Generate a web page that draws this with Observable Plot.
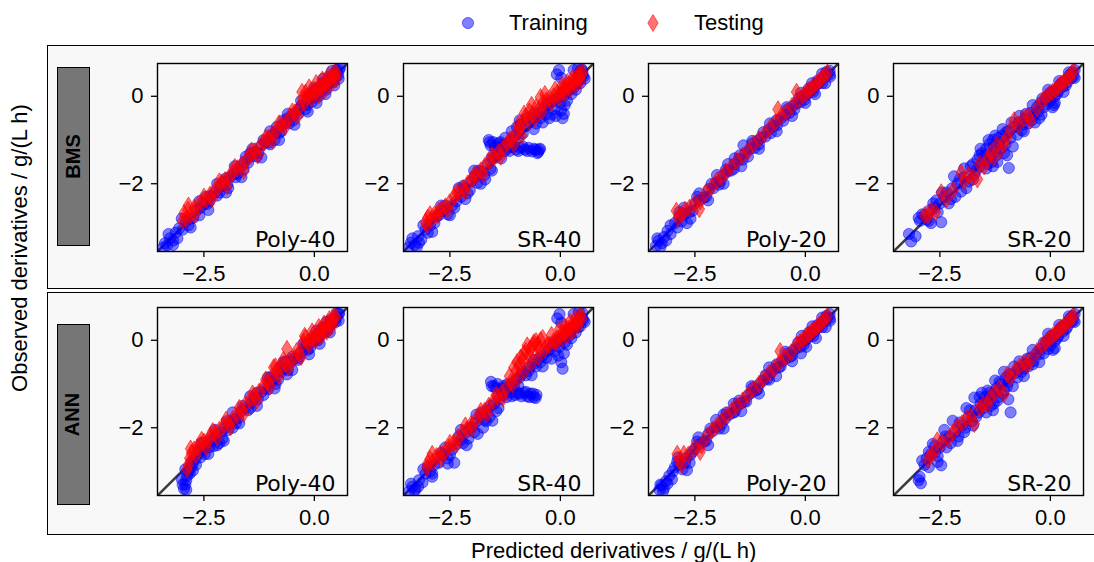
<!DOCTYPE html>
<html>
<head>
<meta charset="utf-8">
<script src="https://cdn.jsdelivr.net/npm/d3@7"></script>
<script src="https://cdn.jsdelivr.net/npm/@observablehq/plot@0.6"></script>
<style>
  html, body { margin: 0; padding: 0; background: #fff; }
  #fig { position: relative; width: 1094px; height: 562px; overflow: hidden; background: #fff; font-family: "Liberation Sans", Arial, sans-serif; }
  .rowbox { position: absolute; left: 47px; width: 1060px; border: 1.3px solid #000; background: #f8f8f8; box-sizing: border-box; }
  .strip { position: absolute; left: 56.5px; width: 33px; background: #767676; border: 1.3px solid #000; box-sizing: border-box; display: flex; align-items: center; justify-content: center; }
  .strip span { transform: rotate(-90deg); font-weight: bold; font-size: 20px; white-space: nowrap; color: #000; }
  .legend-text { position: absolute; font-size: 22px; line-height: 1; white-space: nowrap; }
  .title { position: absolute; font-size: 22px; line-height: 1; white-space: nowrap; }
</style>
</head>
<body>
<div id="fig"></div>
<script>
// ---------- data (predicted, observed) ----------
const rowLabels = ["BMS", "ANN"];
const panelLabels = ["Poly-40", "SR-40", "Poly-20", "SR-20"];
const seriesNames = ["Training", "Testing"];
const axisDomain = [-3.55, 0.75];
const xTicks = [-2.5, 0];
const yTicks = [-2, 0];

const bmsPoly40Train = [[-3.42,-3.46],[-3.38,-3.36],[-3.33,-3.41],[-3.27,-3.25],[-3.2,-3.3],[-3.14,-3.12],[-3.06,-3.02],[-2.98,-3.05],[-2.9,-2.86],[-2.82,-2.8],[-2.74,-2.78],[-2.66,-2.6],[-2.58,-2.55],[-2.5,-2.47],[-2.45,-2.3],[-2.42,-2.46],[-2.34,-2.28],[-2.26,-2.2],[-2.2,-2.27],[-2.12,-2.05],[-2.04,-1.96],[-1.97,-2.02],[-1.95,-2.1],[-1.9,-1.84],[-1.82,-1.78],[-1.74,-1.77],[-1.66,-1.6],[-1.58,-1.5],[-1.55,-1.38],[-1.5,-1.52],[-1.42,-1.37],[-1.34,-1.28],[-1.27,-1.3],[-1.19,-1.12],[-1.11,-1.05],[-1.03,-1.06],[-0.95,-0.88],[-0.9,-1.0],[-0.87,-0.82],[-0.8,-0.84],[-0.72,-0.66],[-0.7,-0.55],[-0.64,-0.6],[-0.57,-0.62],[-0.5,-0.44],[-0.43,-0.38],[-0.36,-0.4],[-0.29,-0.22],[-0.22,-0.18],[-0.16,-0.2],[-0.1,-0.04],[-0.05,0.02],[0.0,-0.03],[0.04,0.08],[0.08,0.05],[0.12,0.16],[0.16,0.13],[0.2,0.24],[0.24,0.21],[0.28,0.32],[0.32,0.29],[0.36,0.4],[0.4,0.37],[0.44,0.48],[0.48,0.45],[0.52,0.56],[0.56,0.6],
  [-3.3,-3.15],[-3.1,-3.25],[-2.85,-2.95],[-2.6,-2.72],[-2.38,-2.4],[-2.15,-2.2],[-2.0,-1.88],[-1.78,-1.85],[-1.6,-1.68],[-1.45,-1.3],[-1.3,-1.38],[-1.15,-1.0],[-1.0,-1.1],[-0.85,-0.7],[-0.75,-0.8],[-0.6,-0.5],[-0.48,-0.55],[-0.32,-0.28],[-0.2,-0.3],[-0.12,0.05],[-0.05,-0.12],[0.02,0.15],[0.1,0.0],[0.18,0.3],[0.26,0.15],[0.34,0.45],[0.42,0.32],[0.5,0.6],[0.54,0.48],[0.58,0.65],
  [-3.2,-3.4],[-3.0,-2.8],[-2.8,-3.0],[-2.6,-2.4],[-2.4,-2.6],[-2.2,-2.0],[-2.0,-2.2],[-1.8,-1.6],[-1.65,-1.85],[-1.4,-1.2],[-1.2,-1.4],[-1.0,-0.8],[-0.8,-1.0],[-0.6,-0.4],[-0.45,-0.65],[-0.3,-0.1],[-0.15,-0.35],[0.0,0.2],[0.05,-0.15],[0.2,0.4],[0.25,0.05],[0.4,0.58],[0.45,0.25],[0.55,0.4]];
const bmsPoly40Test = [[-2.95,-2.68],[-2.9,-2.8],[-2.86,-2.6],[-2.8,-2.72],[-2.72,-2.55],[-2.64,-2.5],[-2.55,-2.44],[-2.45,-2.36],[-2.36,-2.25],[-2.27,-2.18],[-2.18,-2.1],[-2.1,-1.98],[-2.02,-1.92],[-1.93,-1.85],[-1.84,-1.75],[-1.74,-1.65],[-1.64,-1.56],[-1.54,-1.46],[-1.44,-1.36],[-1.34,-1.26],[-1.24,-1.16],[-1.14,-1.06],[-1.04,-0.96],[-0.94,-0.86],[-0.84,-0.76],[-0.74,-0.66],[-0.64,-0.58],[-0.54,-0.47],[-0.44,-0.37],[-0.34,-0.25],[-0.26,-0.05],[-0.2,0.08],[-0.16,-0.02],[-0.1,0.04],[-0.04,0.1],[0.02,0.12],[0.08,0.16],[0.14,0.2],[0.2,0.26],[0.26,0.3],[0.32,0.36],[0.38,0.42],[0.44,0.47],[0.5,0.52],
  [-2.98,-2.85],[-2.85,-2.5],[-2.7,-2.7],[-2.5,-2.3],[-2.32,-2.35],[-2.15,-1.95],[-1.98,-2.05],[-1.8,-1.62],[-1.6,-1.7],[-1.42,-1.25],[-1.28,-1.35],[-1.1,-0.95],[-0.95,-1.0],[-0.8,-0.62],[-0.66,-0.7],[-0.5,-0.35],[-0.38,-0.45],[-0.28,0.1],[-0.22,-0.15],[-0.12,0.2],[-0.06,-0.05],[0.04,0.3],[0.1,0.02],[0.18,0.38],[0.24,0.15],[0.32,0.48],[0.38,0.28],[0.46,0.55],[0.5,0.4]];

const bmsSr40Train = [[-3.44,-3.46],[-3.38,-3.35],[-3.3,-3.4],[-3.22,-3.2],[-3.15,-3.28],[-3.05,-3.05],[-2.95,-2.95],[-2.85,-2.9],[-2.75,-2.72],[-2.65,-2.62],[-2.55,-2.7],[-2.45,-2.5],[-2.35,-2.4],[-2.25,-2.3],[-2.18,-2.1],[-2.1,-2.22],[-2.02,-1.95],[-1.95,-1.85],[-1.88,-1.98],[-1.8,-1.72],[-1.72,-1.8],[-1.64,-1.55],[-1.58,-1.66],[-1.5,-1.42],[-1.62,-1.0],[-1.58,-1.12],[-1.52,-1.05],[-1.46,-1.15],[-1.4,-1.08],[-1.34,-1.18],[-1.28,-1.1],[-1.2,-1.2],[-1.1,-1.16],[-1.0,-1.22],[-0.9,-1.18],[-0.8,-1.22],[-0.72,-1.18],[-0.64,-1.26],[-0.56,-1.22],[-0.5,-1.27],[-0.46,-1.2],[-1.42,-1.35],[-1.34,-1.42],[-1.26,-1.25],[-1.18,-1.08],[-1.1,-1.0],[-1.02,-0.9],[-0.98,-0.7],[-0.92,-0.55],[-0.85,-0.85],[-0.78,-0.68],[-0.7,-0.6],[-0.62,-0.5],[-0.55,-0.62],[-0.48,-0.38],[-0.4,-0.3],[-0.34,-0.42],[-0.28,-0.2],[-0.2,-0.14],[-0.2,-0.42],[-0.14,-0.3],[-0.08,-0.05],[-0.02,0.0],[0.02,-0.32],[0.05,-0.5],[0.1,-0.2],[0.04,0.08],[0.1,0.12],[0.16,0.1],[0.22,0.2],[0.28,0.26],[0.34,0.3],[0.4,0.38],[0.46,0.42],[0.5,0.5],[-0.08,0.5],[-0.03,0.6],[0.02,0.42],[0.3,0.6],[0.4,0.64],[0.48,0.62],[0.44,0.55],
  [-3.35,-3.25],[-3.2,-3.35],[-3.0,-3.12],[-2.8,-2.75],[-2.6,-2.5],[-2.4,-2.55],[-2.2,-2.05],[-2.05,-2.15],[-1.85,-1.7],[-1.7,-1.9],[-1.55,-1.4],[-1.6,-1.05],[-1.48,-1.2],[-1.36,-1.05],[-1.25,-1.15],[-1.15,-1.25],[-1.05,-1.15],[-0.95,-1.25],[-0.85,-1.15],[-0.75,-1.25],[-0.6,-1.2],[-0.52,-1.3],[-0.48,-1.22],[-0.9,-0.65],[-0.75,-0.5],[-0.6,-0.4],[-0.45,-0.5],[-0.3,-0.15],[-0.15,-0.1],[0.0,-0.15],[0.08,-0.4],[0.12,0.05],[0.2,0.15],[0.3,0.2],[0.38,0.3],[0.45,0.5],[0.5,0.58],[0.52,0.45],
  [-3.25,-3.45],[-3.1,-2.95],[-2.9,-3.1],[-2.7,-2.5],[-2.5,-2.72],[-2.3,-2.1],[-2.15,-2.35],[-1.95,-1.7],[-1.8,-2.0],[-1.55,-1.7],[-1.25,-0.95],[-1.1,-0.8],[-0.95,-0.95],[-0.6,-0.75],[-0.4,-0.6],[-0.25,-0.5],[-0.1,-0.45],[0.15,-0.1],[0.25,0.05],[0.35,0.15],[0.45,0.3],[0.55,0.4]];
const bmsSr40Test = [[-3.05,-2.88],[-3.0,-2.78],[-2.92,-2.82],[-2.85,-2.7],[-2.78,-2.72],[-2.7,-2.6],[-2.6,-2.52],[-2.5,-2.42],[-2.4,-2.3],[-2.3,-2.22],[-2.2,-2.1],[-2.1,-2.0],[-2.0,-1.9],[-1.9,-1.82],[-1.8,-1.7],[-1.7,-1.58],[-1.6,-1.5],[-1.5,-1.4],[-1.4,-1.28],[-1.3,-1.2],[-1.2,-1.08],[-1.1,-0.98],[-1.0,-0.85],[-0.92,-0.72],[-0.85,-0.6],[-0.82,-0.4],[-0.78,-0.45],[-0.7,-0.35],[-0.62,-0.42],[-0.55,-0.25],[-0.48,-0.3],[-0.45,-0.02],[-0.4,-0.15],[-0.32,-0.1],[-0.25,-0.05],[-0.15,0.0],[-0.08,0.05],[0.0,0.1],[0.06,0.15],[0.12,0.2],[0.18,0.25],[0.24,0.3],[0.3,0.35],[0.36,0.4],[0.42,0.45],[0.48,0.5],
  [-3.02,-2.95],[-2.95,-2.7],[-2.75,-2.62],[-2.55,-2.6],[-2.35,-2.2],[-2.15,-2.18],[-1.95,-1.8],[-1.75,-1.78],[-1.55,-1.35],[-1.35,-1.38],[-1.15,-1.0],[-1.05,-1.1],[-0.95,-0.65],[-0.88,-0.9],[-0.72,-0.55],[-0.65,-0.2],[-0.58,-0.5],[-0.42,-0.35],[-0.35,0.05],[-0.2,-0.15],[-0.12,0.15],[-0.02,-0.02],[0.04,0.25],[0.1,0.08],[0.16,0.32],[0.22,0.16],[0.28,0.42],[0.34,0.26],[0.4,0.5],[0.46,0.36],[0.5,0.55]];

const bmsPoly20Train = [[-3.38,-3.42],[-3.32,-3.3],[-3.25,-3.36],[-3.2,-3.22],[-3.12,-3.08],[-2.95,-2.9],[-2.85,-2.75],[-2.8,-2.86],[-2.72,-2.68],[-2.68,-2.9],[-2.62,-2.65],[-2.5,-2.45],[-2.4,-2.38],[-2.3,-2.32],[-2.18,-2.12],[-2.08,-2.1],[-2.0,-1.96],[-1.92,-1.94],[-1.85,-1.8],[-1.76,-1.72],[-1.75,-1.55],[-1.68,-1.7],[-1.6,-1.55],[-1.5,-1.44],[-1.42,-1.45],[-1.4,-1.12],[-1.35,-1.3],[-1.25,-1.2],[-1.15,-1.18],[-1.08,-1.02],[-1.0,-0.95],[-0.9,-0.92],[-0.82,-0.76],[-0.72,-0.68],[-0.64,-0.66],[-0.55,-0.5],[-0.45,-0.42],[-0.36,-0.38],[-0.28,-0.22],[-0.2,-0.16],[-0.12,-0.14],[-0.06,0.0],[0.0,0.02],[0.05,0.06],[0.1,0.12],[0.15,0.14],[0.2,0.22],[0.25,0.26],[0.3,0.3],[0.35,0.36],[0.4,0.42],[0.45,0.46],[0.5,0.52],[0.55,0.58],
  [-3.35,-3.25],[-3.15,-3.3],[-3.05,-2.95],[-2.9,-3.0],[-2.75,-2.55],[-2.55,-2.62],[-2.45,-2.3],[-2.25,-2.3],[-2.12,-2.0],[-1.95,-2.02],[-1.8,-1.68],[-1.62,-1.66],[-1.48,-1.35],[-1.3,-1.38],[-1.2,-1.08],[-1.05,-1.1],[-0.95,-0.82],[-0.78,-0.84],[-0.65,-0.55],[-0.5,-0.56],[-0.4,-0.3],[-0.25,-0.3],[-0.15,-0.05],[-0.02,-0.08],[0.08,0.18],[0.18,0.1],[0.28,0.36],[0.38,0.3],[0.48,0.56],[0.55,0.5],
  [-3.28,-3.45],[-3.05,-3.15],[-2.85,-2.65],[-2.6,-2.8],[-2.4,-2.22],[-2.2,-2.38],[-2.0,-1.8],[-1.85,-2.0],[-1.6,-1.42],[-1.45,-1.6],[-1.2,-1.02],[-1.05,-1.2],[-0.8,-0.62],[-0.65,-0.8],[-0.42,-0.25],[-0.3,-0.45],[-0.1,0.08],[0.0,-0.15],[0.15,0.3],[0.22,0.05],[0.38,0.52],[0.45,0.3],[0.56,0.45]];
const bmsPoly20Test = [[-2.92,-2.62],[-2.88,-2.78],[-2.8,-2.7],[-2.72,-2.6],[-2.62,-2.55],[-2.5,-2.45],[-2.4,-2.58],[-2.38,-2.4],[-2.25,-2.2],[-2.12,-2.08],[-2.0,-1.92],[-1.9,-1.86],[-1.8,-1.72],[-1.68,-1.62],[-1.55,-1.48],[-1.42,-1.36],[-1.3,-1.25],[-1.18,-1.1],[-1.05,-0.98],[-0.92,-0.86],[-0.8,-0.72],[-0.68,-0.6],[-0.62,-0.3],[-0.55,-0.46],[-0.42,-0.36],[-0.3,-0.22],[-0.2,0.1],[-0.15,-0.08],[-0.05,0.02],[0.02,0.08],[0.08,0.14],[0.14,0.18],[0.2,0.24],[0.26,0.3],[0.32,0.36],[0.38,0.42],[0.44,0.48],[0.5,0.54]];

const bmsSr20Train = [[-3.15,-3.32],[-3.2,-3.15],[-2.95,-2.85],[-2.9,-2.7],[-2.85,-2.72],[-2.8,-2.82],[-2.72,-2.6],[-2.62,-2.55],[-2.58,-2.38],[-2.5,-2.45],[-2.47,-2.88],[-2.4,-2.3],[-2.3,-2.45],[-2.22,-2.1],[-2.18,-1.83],[-2.1,-2.0],[-2.02,-2.18],[-1.95,-1.85],[-1.85,-1.95],[-1.8,-1.6],[-1.72,-1.78],[-1.65,-1.45],[-1.6,-1.6],[-1.55,-1.3],[-1.5,-1.45],[-1.45,-1.2],[-1.42,-1.55],[-1.38,-1.1],[-1.35,-1.35],[-1.3,-1.0],[-1.25,-1.25],[-1.2,-1.5],[-1.15,-1.05],[-1.1,-0.9],[-1.05,-1.3],[-0.94,-1.64],[-1.0,-0.82],[-0.9,-0.95],[-0.85,-1.15],[-0.8,-0.7],[-0.72,-0.6],[-0.65,-0.78],[-0.58,-0.52],[-0.5,-0.62],[-0.45,-0.38],[-0.38,-0.45],[-0.35,-0.6],[-0.3,-0.25],[-0.22,-0.15],[-0.2,-0.42],[-0.15,-0.25],[-0.1,-0.05],[-0.05,0.02],[0.0,-0.1],[0.05,0.08],[0.05,-0.25],[0.08,-0.2],[0.1,0.0],[0.12,0.15],[0.18,0.12],[0.22,0.25],[0.28,0.22],[0.32,0.35],[0.38,0.32],[0.42,0.45],[0.48,0.42],[0.5,0.55],[0.55,0.6],
  [-2.98,-2.78],[-2.75,-2.85],[-2.65,-2.45],[-2.55,-2.65],[-2.35,-2.2],[-2.25,-2.35],[-2.05,-1.9],[-1.9,-2.1],[-1.75,-1.55],[-1.68,-1.7],[-1.58,-1.2],[-1.48,-1.35],[-1.4,-1.0],[-1.32,-1.5],[-1.28,-1.15],[-1.22,-1.35],[-1.18,-0.95],[-1.12,-1.2],[-1.02,-1.1],[-0.95,-0.8],[-0.88,-0.6],[-0.75,-0.88],[-0.62,-0.65],[-0.55,-0.4],[-0.42,-0.55],[-0.28,-0.35],[-0.18,-0.05],[-0.08,-0.18],[0.02,0.1],[0.15,0.05],[0.25,0.3],[0.35,0.25],[0.45,0.5],[0.52,0.45],
  [-3.05,-3.2],[-2.7,-2.9],[-2.45,-2.2],[-2.15,-2.3],[-1.95,-1.65],[-1.75,-1.9],[-1.6,-1.35],[-1.45,-1.65],[-1.3,-1.6],[-1.25,-0.9],[-1.08,-0.75],[-0.98,-1.35],[-0.7,-0.45],[-0.6,-0.8],[-0.4,-0.2],[-0.25,-0.5],[-0.05,0.15],[0.1,-0.15],[0.2,0.35],[0.3,0.1],[0.42,0.55],[0.55,0.42]];
const bmsSr20Test = [[-2.85,-2.72],[-2.77,-2.73],[-2.7,-2.62],[-2.6,-2.65],[-2.47,-2.2],[-2.35,-2.35],[-2.2,-2.15],[-2.02,-1.75],[-1.95,-1.95],[-1.85,-1.8],[-1.75,-1.85],[-1.65,-1.9],[-1.6,-1.55],[-1.5,-1.6],[-1.42,-1.42],[-1.35,-1.3],[-1.28,-1.4],[-1.2,-1.1],[-1.12,-1.22],[-1.05,-1.07],[-0.98,-0.95],[-0.9,-0.75],[-0.82,-0.55],[-0.72,-0.65],[-0.6,-0.5],[-0.5,-0.45],[-0.45,-0.55],[-0.3,-0.28],[-0.18,-0.1],[-0.1,-0.02],[-0.02,0.05],[0.05,0.1],[0.12,0.15],[0.18,0.22],[0.24,0.28],[0.3,0.32],[0.36,0.38],[0.42,0.44],[0.48,0.5],[0.52,0.58]];

const annPoly40Train = [[-2.95,-3.4],[-2.92,-3.3],[-2.9,-3.2],[-2.88,-3.1],[-2.85,-3.0],[-2.8,-2.92],[-2.75,-2.82],[-2.7,-2.72],[-2.64,-2.62],[-2.58,-2.68],[-2.52,-2.52],[-2.45,-2.42],[-2.38,-2.45],[-2.3,-2.3],[-2.22,-2.2],[-2.2,-2.4],[-2.15,-2.35],[-2.1,-2.1],[-2.02,-2.0],[-1.95,-2.05],[-1.88,-1.88],[-1.85,-2.0],[-1.8,-1.8],[-1.72,-1.78],[-1.65,-1.62],[-1.56,-1.55],[-1.5,-1.6],[-1.42,-1.42],[-1.35,-1.32],[-1.28,-1.35],[-1.2,-1.18],[-1.12,-1.1],[-1.05,-1.12],[-0.98,-0.95],[-0.9,-0.88],[-0.82,-0.9],[-0.75,-0.72],[-0.7,-0.5],[-0.68,-0.65],[-0.6,-0.68],[-0.52,-0.48],[-0.45,-0.42],[-0.38,-0.45],[-0.3,-0.28],[-0.22,-0.2],[-0.15,-0.22],[-0.08,-0.06],[-0.02,0.0],[0.04,0.02],[0.1,0.1],[0.15,0.12],[0.2,0.2],[0.25,0.24],[0.3,0.3],[0.35,0.34],[0.4,0.4],[0.45,0.46],[0.5,0.52],[0.55,0.6],
  [-2.98,-3.3],[-2.9,-3.42],[-2.82,-3.05],[-2.78,-2.78],[-2.68,-2.85],[-2.6,-2.5],[-2.48,-2.6],[-2.35,-2.28],[-2.28,-2.42],[-2.08,-2.25],[-1.98,-1.85],[-1.78,-1.9],[-1.62,-1.5],[-1.45,-1.55],[-1.3,-1.2],[-1.15,-1.25],[-1.0,-0.85],[-0.88,-1.0],[-0.78,-0.62],[-0.62,-0.78],[-0.5,-0.38],[-0.35,-0.4],[-0.2,-0.1],[-0.1,-0.18],[0.0,0.08],[0.08,0.0],[0.18,0.28],[0.28,0.2],[0.38,0.48],[0.48,0.42],[0.56,0.62],
  [-3.0,-3.18],[-2.92,-2.95],[-2.75,-2.98],[-2.55,-2.35],[-2.4,-2.6],[-2.25,-2.05],[-2.05,-2.3],[-1.85,-1.65],[-1.7,-1.9],[-1.45,-1.28],[-1.3,-1.5],[-1.05,-0.85],[-0.9,-1.1],[-0.65,-0.48],[-0.5,-0.68],[-0.25,-0.08],[-0.12,-0.32],[0.05,0.22],[0.12,-0.08],[0.28,0.42],[0.35,0.18],[0.5,0.62],[0.55,0.45]];
const annPoly40Test = [[-2.85,-2.85],[-2.82,-2.7],[-2.78,-2.58],[-2.72,-2.5],[-2.65,-2.45],[-2.58,-2.4],[-2.5,-2.32],[-2.42,-2.3],[-2.35,-2.2],[-2.25,-2.12],[-2.15,-2.05],[-2.05,-1.95],[-1.95,-1.9],[-1.85,-1.8],[-1.75,-1.72],[-1.65,-1.6],[-1.55,-1.45],[-1.45,-1.38],[-1.35,-1.28],[-1.25,-1.18],[-1.15,-1.05],[-1.05,-0.95],[-0.95,-0.82],[-0.92,-0.62],[-0.85,-0.7],[-0.75,-0.6],[-0.65,-0.55],[-0.62,-0.2],[-0.55,-0.48],[-0.45,-0.4],[-0.35,-0.3],[-0.25,-0.05],[-0.2,0.06],[-0.15,-0.05],[-0.08,0.04],[0.0,0.08],[0.06,0.12],[0.12,0.18],[0.18,0.24],[0.24,0.28],[0.3,0.34],[0.36,0.4],[0.42,0.46],[0.48,0.52],
  [-2.88,-2.95],[-2.8,-2.48],[-2.68,-2.62],[-2.55,-2.28],[-2.45,-2.45],[-2.3,-2.08],[-2.2,-2.22],[-2.0,-1.82],[-1.9,-1.98],[-1.7,-1.55],[-1.6,-1.68],[-1.4,-1.22],[-1.3,-1.38],[-1.1,-0.9],[-1.0,-1.05],[-0.88,-0.6],[-0.8,-0.82],[-0.7,-0.45],[-0.58,-0.62],[-0.4,-0.25],[-0.3,-0.38],[-0.22,0.1],[-0.12,-0.1],[-0.05,0.2],[0.03,0.0],[0.1,0.3],[0.16,0.1],[0.22,0.38],[0.28,0.2],[0.34,0.48],[0.4,0.32],[0.46,0.56]];

const annSr40Train = [[-3.42,-3.45],[-3.35,-3.35],[-3.28,-3.4],[-3.2,-3.2],[-3.12,-3.25],[-3.05,-3.05],[-2.95,-3.0],[-2.85,-2.85],[-2.75,-2.8],[-2.65,-2.62],[-2.55,-2.7],[-2.45,-2.5],[-2.4,-2.8],[-2.35,-2.38],[-2.25,-2.28],[-2.15,-2.12],[-2.08,-2.25],[-2.0,-1.98],[-1.92,-1.88],[-1.87,-2.14],[-1.8,-1.75],[-1.72,-1.82],[-1.65,-1.6],[-1.54,-1.84],[-1.58,-1.5],[-1.5,-1.45],[-1.45,-1.62],[-1.57,-0.95],[-1.5,-1.05],[-1.42,-1.0],[-1.35,-1.12],[-1.28,-1.05],[-1.2,-1.15],[-1.12,-1.2],[-1.02,-1.25],[-0.92,-1.22],[-0.82,-1.2],[-0.75,-1.28],[-0.68,-1.22],[-0.6,-1.3],[-0.54,-1.25],[-1.38,-1.35],[-1.3,-1.25],[-1.22,-1.3],[-1.15,-1.05],[-1.08,-0.98],[-1.0,-0.9],[-0.92,-0.85],[-0.85,-0.72],[-0.78,-0.8],[-0.7,-0.62],[-0.62,-0.55],[-0.55,-0.6],[-0.48,-0.42],[-0.4,-0.35],[-0.32,-0.4],[-0.25,-0.2],[-0.18,-0.12],[-0.12,-0.25],[-0.06,-0.05],[0.0,0.0],[0.02,-0.5],[0.05,-0.65],[0.08,-0.3],[0.05,0.06],[0.1,0.1],[0.15,0.12],[0.2,0.2],[0.26,0.24],[0.32,0.3],[0.38,0.36],[0.44,0.42],[0.5,0.5],[-0.07,0.5],[-0.02,0.6],[0.02,0.4],[0.3,0.6],[0.42,0.65],[0.5,0.62],
  [-3.38,-3.28],[-3.22,-3.35],[-3.0,-2.9],[-2.9,-3.05],[-2.7,-2.58],[-2.5,-2.62],[-2.3,-2.2],[-2.2,-2.35],[-2.05,-2.0],[-1.95,-2.1],[-1.78,-1.65],[-1.68,-1.85],[-1.55,-1.05],[-1.45,-1.1],[-1.32,-1.2],[-1.25,-1.1],[-1.1,-1.28],[-0.98,-1.2],[-0.88,-1.28],[-0.78,-1.18],[-0.7,-1.3],[-0.62,-1.22],[-0.56,-1.32],[-1.05,-1.05],[-0.88,-0.78],[-0.72,-0.7],[-0.6,-0.45],[-0.45,-0.5],[-0.3,-0.25],[-0.15,-0.05],[-0.02,-0.15],[0.1,-0.05],[0.12,0.15],[0.22,0.12],[0.3,0.32],[0.4,0.3],[0.46,0.52],[0.52,0.45],
  [-3.3,-3.45],[-3.1,-2.95],[-2.9,-3.12],[-2.6,-2.45],[-2.55,-2.82],[-2.25,-2.05],[-2.12,-2.4],[-1.9,-1.7],[-1.75,-2.0],[-1.6,-1.75],[-1.4,-1.55],[-1.2,-1.0],[-0.95,-1.05],[-0.65,-0.8],[-0.4,-0.6],[-0.2,-0.42],[-0.05,-0.35],[0.15,-0.1],[0.25,0.05],[0.35,0.18],[0.45,0.32],[0.55,0.42]];
const annSr40Test = [[-3.0,-2.82],[-2.95,-2.72],[-2.88,-2.78],[-2.8,-2.65],[-2.72,-2.6],[-2.62,-2.55],[-2.52,-2.45],[-2.42,-2.35],[-2.32,-2.22],[-2.22,-2.12],[-2.12,-2.05],[-2.02,-1.92],[-1.92,-1.82],[-1.82,-1.72],[-1.72,-1.62],[-1.62,-1.5],[-1.52,-1.4],[-1.42,-1.3],[-1.32,-1.2],[-1.22,-1.1],[-1.12,-0.95],[-1.05,-0.62],[-0.98,-0.5],[-0.9,-0.4],[-0.82,-0.3],[-0.75,-0.12],[-0.68,-0.2],[-0.6,-0.05],[-0.52,-0.1],[-0.45,0.0],[-0.95,-0.85],[-0.8,-0.68],[-0.65,-0.52],[-0.5,-0.38],[-0.35,-0.2],[-0.25,-0.1],[-0.15,-0.02],[-0.08,0.04],[0.0,0.1],[0.06,0.16],[0.12,0.2],[0.18,0.26],[0.24,0.3],[0.3,0.36],[0.36,0.42],[0.42,0.46],[0.48,0.5],
  [-3.02,-2.92],[-2.9,-2.6],[-2.7,-2.7],[-2.5,-2.35],[-2.35,-2.38],[-2.15,-1.95],[-2.0,-2.02],[-1.8,-1.62],[-1.65,-1.68],[-1.45,-1.25],[-1.3,-1.32],[-1.15,-0.82],[-1.08,-1.0],[-1.0,-0.7],[-0.92,-0.55],[-0.85,-0.45],[-0.78,-0.25],[-0.7,-0.35],[-0.62,-0.12],[-0.55,-0.02],[-0.48,-0.2],[-0.4,0.05],[-0.3,-0.12],[-0.2,0.12],[-0.1,-0.05],[-0.02,0.25],[0.04,0.05],[0.1,0.32],[0.16,0.12],[0.22,0.42],[0.28,0.22],[0.34,0.5],[0.4,0.34],[0.46,0.58]];

const annPoly20Train = [[-3.3,-3.42],[-3.25,-3.32],[-3.2,-3.38],[-3.15,-3.22],[-3.08,-3.1],[-2.95,-2.9],[-2.85,-2.85],[-2.72,-2.8],[-2.68,-2.97],[-2.7,-2.7],[-2.6,-2.62],[-2.5,-2.48],[-2.4,-2.38],[-2.3,-2.32],[-2.2,-2.15],[-2.1,-2.08],[-2.0,-1.98],[-1.9,-1.92],[-1.85,-1.7],[-1.82,-1.8],[-1.72,-1.7],[-1.64,-1.66],[-1.55,-1.52],[-1.46,-1.44],[-1.38,-1.4],[-1.3,-1.26],[-1.22,-1.2],[-1.12,-1.15],[-1.04,-1.0],[-0.95,-0.92],[-0.86,-0.88],[-0.78,-0.74],[-0.7,-0.66],[-0.6,-0.62],[-0.52,-0.48],[-0.44,-0.42],[-0.35,-0.38],[-0.28,-0.24],[-0.2,-0.18],[-0.12,-0.15],[-0.1,-0.3],[-0.06,-0.02],[0.0,0.0],[0.05,0.05],[0.1,0.1],[0.15,0.16],[0.2,0.2],[0.25,0.26],[0.3,0.3],[0.35,0.36],[0.4,0.42],[0.45,0.46],[0.5,0.52],[0.55,0.6],
  [-3.28,-3.3],[-3.12,-3.28],[-3.0,-3.0],[-2.9,-2.78],[-2.78,-2.95],[-2.55,-2.55],[-2.45,-2.32],[-2.25,-2.3],[-2.15,-2.02],[-1.95,-2.02],[-1.78,-1.65],[-1.6,-1.64],[-1.5,-1.38],[-1.34,-1.4],[-1.18,-1.08],[-1.08,-1.12],[-0.9,-0.8],[-0.82,-0.9],[-0.65,-0.55],[-0.56,-0.6],[-0.4,-0.3],[-0.3,-0.35],[-0.16,-0.05],[-0.04,-0.1],[0.08,0.18],[0.18,0.1],[0.28,0.35],[0.38,0.3],[0.48,0.56],[0.55,0.5],
  [-3.22,-3.45],[-3.02,-3.18],[-2.88,-2.68],[-2.62,-2.8],[-2.42,-2.22],[-2.2,-2.4],[-2.02,-1.82],[-1.85,-2.02],[-1.62,-1.45],[-1.45,-1.62],[-1.22,-1.05],[-1.05,-1.22],[-0.82,-0.62],[-0.66,-0.82],[-0.45,-0.26],[-0.3,-0.48],[-0.08,0.1],[0.02,-0.15],[0.16,0.32],[0.24,0.05],[0.38,0.52],[0.46,0.3],[0.56,0.45]];
const annPoly20Test = [[-2.9,-2.6],[-2.85,-2.75],[-2.8,-2.85],[-2.75,-2.6],[-2.65,-2.62],[-2.5,-2.45],[-2.38,-2.55],[-2.35,-2.4],[-2.22,-2.18],[-2.1,-2.05],[-2.0,-1.95],[-1.9,-1.85],[-1.78,-1.72],[-1.66,-1.6],[-1.55,-1.5],[-1.42,-1.38],[-1.3,-1.25],[-1.18,-1.12],[-1.05,-1.0],[-0.95,-0.88],[-0.82,-0.75],[-0.7,-0.65],[-0.57,-0.25],[-0.58,-0.5],[-0.45,-0.4],[-0.32,-0.28],[-0.2,-0.1],[-0.12,-0.05],[-0.05,0.02],[0.02,0.08],[0.08,0.14],[0.14,0.2],[0.2,0.24],[0.26,0.3],[0.32,0.36],[0.38,0.42],[0.44,0.48],[0.5,0.55]];

const annSr20Train = [[-2.93,-3.27],[-2.96,-3.12],[-2.85,-2.85],[-2.8,-2.7],[-2.66,-2.37],[-2.7,-2.6],[-2.6,-2.55],[-2.47,-2.86],[-2.5,-2.45],[-2.42,-2.3],[-2.35,-2.45],[-2.28,-2.2],[-2.21,-1.84],[-2.15,-2.1],[-2.08,-2.2],[-2.0,-1.95],[-1.92,-2.0],[-1.85,-1.75],[-1.78,-1.85],[-1.72,-1.31],[-1.7,-1.6],[-1.62,-1.65],[-1.58,-1.45],[-1.52,-1.55],[-1.48,-1.3],[-1.42,-1.4],[-1.38,-1.2],[-1.32,-1.25],[-1.28,-1.45],[-1.22,-1.1],[-1.18,-1.3],[-1.12,-1.0],[-1.05,-1.15],[-0.9,-1.65],[-1.0,-0.85],[-0.95,-0.95],[-0.85,-1.05],[-0.8,-0.75],[-0.72,-0.65],[-0.65,-0.72],[-0.58,-0.55],[-0.5,-0.6],[-0.45,-0.4],[-0.38,-0.48],[-0.3,-0.28],[-0.22,-0.2],[-0.15,-0.3],[-0.1,-0.05],[-0.05,0.0],[0.0,-0.12],[0.05,0.06],[0.06,-0.22],[0.1,-0.02],[0.12,0.14],[0.18,0.1],[0.22,0.24],[0.28,0.2],[0.32,0.34],[0.38,0.3],[0.42,0.45],[0.48,0.42],[0.5,0.55],[0.55,0.6],
  [-2.9,-2.75],[-2.75,-2.9],[-2.62,-2.42],[-2.55,-2.65],[-2.38,-2.2],[-2.25,-2.35],[-2.05,-1.88],[-1.95,-2.1],[-1.82,-1.6],[-1.68,-1.75],[-1.6,-1.3],[-1.5,-1.42],[-1.42,-1.15],[-1.35,-1.5],[-1.25,-1.18],[-1.2,-1.38],[-1.15,-0.95],[-1.08,-1.22],[-0.98,-1.05],[-0.92,-0.78],[-0.82,-0.6],[-0.75,-0.85],[-0.6,-0.65],[-0.52,-0.42],[-0.4,-0.55],[-0.25,-0.32],[-0.15,-0.05],[-0.05,-0.2],[0.02,0.1],[0.15,0.04],[0.25,0.3],[0.35,0.25],[0.45,0.5],[0.52,0.45],
  [-2.98,-3.2],[-2.75,-2.55],[-2.55,-2.78],[-2.4,-2.05],[-2.1,-2.3],[-1.9,-1.55],[-1.75,-1.95],[-1.55,-1.2],[-1.45,-1.65],[-1.3,-1.6],[-1.25,-0.92],[-1.05,-0.72],[-0.95,-1.35],[-0.7,-0.48],[-0.6,-0.82],[-0.4,-0.22],[-0.25,-0.5],[-0.05,0.15],[0.1,-0.18],[0.2,0.35],[0.3,0.1],[0.42,0.55],[0.55,0.42]];
const annSr20Test = [[-2.77,-2.74],[-2.7,-2.62],[-2.62,-2.55],[-2.56,-2.29],[-2.45,-2.35],[-2.3,-2.25],[-2.2,-2.1],[-2.11,-1.99],[-2.0,-1.9],[-1.9,-1.8],[-1.8,-1.75],[-1.72,-1.91],[-1.6,-1.55],[-1.52,-1.48],[-1.42,-1.46],[-1.35,-1.3],[-1.25,-1.2],[-1.15,-1.1],[-1.05,-1.23],[-0.97,-0.78],[-0.9,-0.85],[-0.8,-0.7],[-0.7,-0.6],[-0.6,-0.52],[-0.52,-0.56],[-0.45,-0.45],[-0.3,-0.25],[-0.18,-0.12],[-0.1,-0.04],[-0.02,0.04],[0.05,0.1],[0.12,0.16],[0.18,0.22],[0.24,0.28],[0.3,0.32],[0.36,0.38],[0.42,0.44],[0.48,0.5],[0.52,0.56]];

const trainSets = [[bmsPoly40Train, bmsSr40Train, bmsPoly20Train, bmsSr20Train],
                   [annPoly40Train, annSr40Train, annPoly20Train, annSr20Train]];
const testSets = [[bmsPoly40Test, bmsSr40Test, bmsPoly20Test, bmsSr20Test],
                  [annPoly40Test, annSr40Test, annPoly20Test, annSr20Test]];

// ---------- layout ----------
const fig = document.getElementById("fig");
const panelLefts = [157.3, 402.7, 648.3, 892.7];
const panelTops = [62.7, 307.3];
const PW = 190, PH = 188;
const mL = 52, mR = 6, mT = 8, mB = 40;

function addDiv(cls, style, html) {
  const d = document.createElement("div");
  d.className = cls;
  Object.assign(d.style, style);
  if (html != null) d.innerHTML = html;
  fig.appendChild(d);
  return d;
}

addDiv("rowbox", {top: "44.5px", height: "244.5px"});
addDiv("rowbox", {top: "291.8px", height: "243px"});
addDiv("strip", {top: "66.5px", height: "179.5px"}, `<span>${rowLabels[0]}</span>`);
addDiv("strip", {top: "324px", height: "180.5px"}, `<span>${rowLabels[1]}</span>`);

const thinDiamond = {
  draw(ctx, size) {
    const r = Math.sqrt(size / Math.PI);
    const hh = r * 1.55, hw = r * 0.95;
    ctx.moveTo(0, -hh); ctx.lineTo(hw, 0); ctx.lineTo(0, hh); ctx.lineTo(-hw, 0); ctx.closePath();
  }
};

const diag = axisDomain.map(v => ({x: v, y: v}));
const fmtX = d => d === 0 ? "0.0" : d3.format(".1f")(d);
const fmtY = d3.format("d");

for (let row = 0; row < 2; row++) {
  for (let col = 0; col < 4; col++) {
    const svg = Plot.plot({
      width: PW + mL + mR, height: PH + mT + mB,
      marginLeft: mL, marginRight: mR, marginTop: mT, marginBottom: mB,
      style: {background: "transparent", color: "#000", fontFamily: "'Liberation Sans', Arial, sans-serif", fontSize: "22px", overflow: "visible"},
      x: {domain: axisDomain, label: null},
      y: {domain: axisDomain, label: null},
      marks: [
        Plot.line(diag, {x: "x", y: "y", stroke: "#3c3c3c", strokeWidth: 2.6, clip: true}),
        Plot.dot(trainSets[row][col], {x: d => d[0], y: d => d[1], r: 5.6, fill: "blue", fillOpacity: 0.5, stroke: "blue", strokeOpacity: 0.5, strokeWidth: 1, clip: true}),
        Plot.dot(testSets[row][col], {x: d => d[0], y: d => d[1], r: 5.6, symbol: thinDiamond, fill: "red", fillOpacity: 0.55, stroke: "red", strokeOpacity: 0.55, strokeWidth: 1, clip: true}),
        Plot.text([panelLabels[col]], {text: d => d, frameAnchor: "bottom-right", textAnchor: "end", lineAnchor: "bottom", dx: -12, dy: -5, fontFamily: "'DejaVu Sans', sans-serif", fontSize: 22, fill: "#000"}),
        Plot.frame({stroke: "#000", strokeWidth: 1.4}),
        Plot.axisX({ticks: xTicks, tickFormat: fmtX, tickSize: 6, tickPadding: 8, strokeWidth: 1.3, fontSize: 22, label: null}),
        Plot.axisY({ticks: yTicks, tickFormat: fmtY, tickSize: 6, tickPadding: 8, strokeWidth: 1.3, fontSize: 22, label: null})
      ]
    });
    svg.style.position = "absolute";
    svg.style.left = (panelLefts[col] - mL) + "px";
    svg.style.top = (panelTops[row] - mT) + "px";
    fig.appendChild(svg);
  }
}

// legend
const legend = document.createElement("div");
legend.style.position = "absolute"; legend.style.left = "0"; legend.style.top = "0";
legend.innerHTML = `
<svg width="1094" height="45" style="position:absolute;left:0;top:0">
  <circle cx="468" cy="23" r="5.6" fill="blue" fill-opacity="0.5" stroke="blue" stroke-opacity="0.5"/>
  <path d="M653,14.5 L658.2,23 L653,31.5 L647.8,23 Z" fill="red" fill-opacity="0.55" stroke="red" stroke-opacity="0.55"/>
</svg>`;
fig.appendChild(legend);
addDiv("legend-text", {left: "509px", top: "12px"}, seriesNames[0]);
addDiv("legend-text", {left: "694px", top: "12px"}, seriesNames[1]);

addDiv("title", {left: "613.7px", top: "540px", transform: "translateX(-50%)"}, "Predicted derivatives / g/(L h)");
addDiv("title", {left: "20px", top: "248px", transform: "translate(-50%,-50%) rotate(-90deg)"}, "Observed derivatives / g/(L h)");
</script>
</body>
</html>
